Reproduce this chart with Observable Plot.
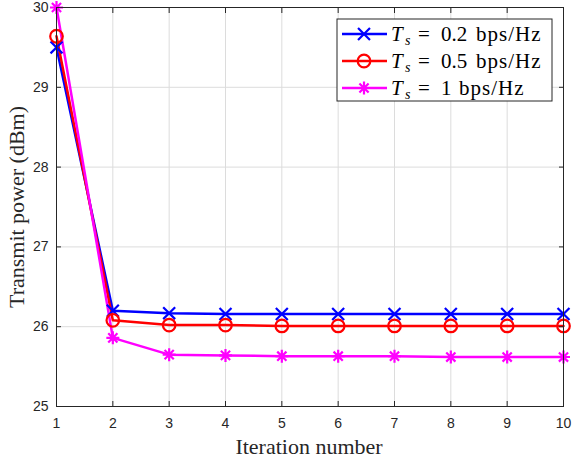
<!DOCTYPE html>
<html><head><meta charset="utf-8">
<script src="https://cdn.jsdelivr.net/npm/d3@7"></script>
<script src="https://cdn.jsdelivr.net/npm/@observablehq/plot@0.6"></script>
<style>
body{margin:0;background:#fff;}
#wrap{position:relative;width:572px;height:461px;}
#wrap svg{font-family:"Liberation Sans",Arial,sans-serif;}
</style>
</head><body><div id="wrap"></div>
<script>
const iterations = [1,2,3,4,5,6,7,8,9,10];
const seriesNames = ["0.2", "0.5", "1"];
const ts02 = [29.50, 26.20, 26.17, 26.16, 26.16, 26.16, 26.16, 26.16, 26.16, 26.16];
const ts05 = [29.64, 26.08, 26.02, 26.02, 26.01, 26.01, 26.01, 26.01, 26.01, 26.01];
const ts1  = [30.00, 25.86, 25.65, 25.64, 25.63, 25.63, 25.63, 25.62, 25.62, 25.62];
const xTicks = [1,2,3,4,5,6,7,8,9,10];
const yTicks = [25,26,27,28,29,30];
const colors = ["#0000ff", "#ff0000", "#ff00ff"];

// MATLAB-style '*' marker: plus + times (8 arms)
const star8 = {
  draw(context, size) {
    const r = Math.sqrt(size / Math.PI);
    for (let k = 0; k < 4; k++) {
      const a = k * Math.PI / 4;
      const dx = r * Math.cos(a), dy = r * Math.sin(a);
      context.moveTo(-dx, -dy);
      context.lineTo(dx, dy);
    }
  }
};
const symbols = [d3.symbolTimes, "circle", star8];

const allSeries = [ts02, ts05, ts1];
const data = allSeries.flatMap((vals, s) => vals.map((v, i) => ({x: iterations[i], y: v, s})));

const marks = [
  Plot.gridX(xTicks, {stroke: "#dcdcdc", strokeOpacity: 1}),
  Plot.gridY(yTicks, {stroke: "#dcdcdc", strokeOpacity: 1}),
];
allSeries.forEach((vals, s) => {
  const d = data.filter(p => p.s === s);
  marks.push(Plot.line(d, {x: "x", y: "y", stroke: colors[s], strokeWidth: 2.5}));
});
const radii = [5.5, 6.3, 6.5];
allSeries.forEach((vals, s) => {
  const d = data.filter(p => p.s === s);
  marks.push(Plot.dot(d, {x: "x", y: "y", stroke: colors[s], symbol: symbols[s], r: radii[s], strokeWidth: 2.2, fill: "none"}));
});
const fmt = d => String(d);
marks.push(
  Plot.frame({stroke: "#262626", strokeWidth: 1}),
  Plot.axisX(xTicks, {anchor: "bottom", tickSize: 0, tickPadding: 12, fontSize: 14, color: "#262626", label: null, tickFormat: fmt}),
  Plot.axisX(xTicks, {anchor: "bottom", tickSize: 5, dy: -5, text: null, stroke: "#262626", label: null}),
  Plot.axisX(xTicks, {anchor: "top", tickSize: 5, dy: 5, text: null, stroke: "#262626", label: null}),
  Plot.axisY(yTicks, {anchor: "left", tickSize: 0, tickPadding: 8, fontSize: 14, color: "#262626", label: null, tickFormat: fmt}),
  Plot.axisY(yTicks, {anchor: "left", tickSize: 5, dx: 5, text: null, stroke: "#262626", label: null}),
  Plot.axisY(yTicks, {anchor: "right", tickSize: 5, dx: -5, text: null, stroke: "#262626", label: null})
);

const chart = Plot.plot({
  width: 572, height: 461,
  marginLeft: 56, marginRight: 9, marginTop: 7, marginBottom: 55,
  x: {domain: [1, 10]},
  y: {domain: [25, 30]},
  style: {background: "#fff", overflow: "visible"},
  marks
});
document.getElementById("wrap").appendChild(chart);

const serif = "'Liberation Serif','Times New Roman',serif";
const svg = d3.select(chart);
svg.append("text").attr("x", 309).attr("y", 454).attr("text-anchor", "middle")
  .attr("font-family", serif).attr("font-size", 22).attr("fill", "#262626")
  .text("Iteration number");
svg.append("text").attr("transform", "translate(24,207) rotate(-90)").attr("text-anchor", "middle")
  .attr("font-family", serif).attr("font-size", 22).attr("fill", "#262626")
  .text("Transmit power (dBm)");

// Legend
const lg = svg.append("g").attr("text-anchor", "start");
lg.append("rect").attr("x", 337).attr("y", 19).attr("width", 215).attr("height", 82)
  .attr("fill", "#fff").attr("stroke", "#262626").attr("stroke-width", 1);
seriesNames.forEach((name, i) => {
  const cy = 34 + i * 27;
  lg.append("line").attr("x1", 342).attr("x2", 387).attr("y1", cy).attr("y2", cy)
    .attr("stroke", colors[i]).attr("stroke-width", 2.5);
  const r = radii[i];
  if (symbols[i] === "circle") {
    lg.append("circle").attr("cx", 364).attr("cy", cy).attr("r", r).attr("fill", "none").attr("stroke", colors[i]).attr("stroke-width", 2.2);
  } else {
    const path = d3.symbol(symbols[i], Math.PI * r * r)();
    lg.append("path").attr("d", path).attr("transform", `translate(364,${cy})`).attr("fill", "none").attr("stroke", colors[i]).attr("stroke-width", 2.2);
  }
  const base = cy + 7;
  const g = lg.append("g").attr("font-family", serif).attr("fill", "#000");
  g.append("text").attr("x", 391).attr("y", base).attr("font-size", 21).attr("font-style", "italic").text("T");
  g.append("text").attr("x", 405).attr("y", base + 4).attr("font-size", 14).attr("font-style", "italic").text("s");
  g.append("text").attr("x", 418).attr("y", base).attr("font-size", 21).text("=");
  g.append("text").attr("x", 441).attr("y", base).attr("font-size", 21).text(name);
  const bx = name.length > 1 ? 476 : 459;
  g.append("text").attr("x", bx).attr("y", base).attr("font-size", 21).attr("letter-spacing", 1).text("bps/Hz");
});
</script></body></html>
